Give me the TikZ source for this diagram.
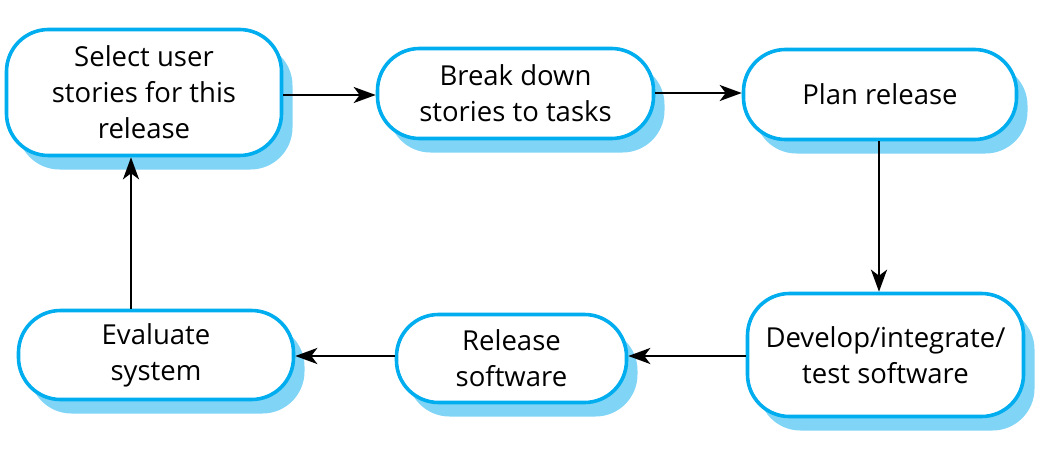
\documentclass[tikz,border=0pt]{standalone}
\usepackage{fontspec}
\setmainfont{Open Sans}
\usetikzlibrary{arrows.meta,shadows}
\definecolor{edgeblue}{RGB}{0,174,239}
\definecolor{shadeblue}{RGB}{128,212,246}
\tikzset{
  stepbox/.style={draw=edgeblue, line width=3.6pt, fill=white, rounded corners=42pt,
    align=center, inner sep=0pt,
    font=\fontsize{27.5pt}{36pt}\selectfont,
    drop shadow={shadow xshift=11pt, shadow yshift=-14pt, fill=shadeblue, opacity=1, draw=none}},
  arr/.style={line width=2.4pt, -{Stealth[length=22pt,width=16pt,inset=6pt]}}
}
\begin{document}
\begin{tikzpicture}[x=1pt,y=-1pt]
\useasboundingbox (0,0) rectangle (1052,463);
\node[stepbox, minimum width=275pt, minimum height=126pt] (b1) at (144,92.5) {Select user\\stories for this\\release};
\node[stepbox, minimum width=276pt, minimum height=90pt] (b2) at (515.5,93.5) {Break down\\stories to tasks};
\node[stepbox, minimum width=273pt, minimum height=90pt] (b3) at (880,94.5) {Plan release};
\node[stepbox, minimum width=276pt, minimum height=123pt] (b4) at (885.5,355) {Develop/integrate/\\test software};
\node[stepbox, minimum width=230pt, minimum height=88pt] (b6) at (511.5,358.5) {Release\\software};
\node[stepbox, minimum width=275pt, minimum height=89pt] (b5) at (156,355) {Evaluate\\system};
\coordinate (r1) at (0,95);
\coordinate (r2) at (0,93);
\coordinate (c3) at (879,0);
\coordinate (r4) at (0,356);
\coordinate (c5) at (131,0);
\draw[arr] (b1.east |- r1) -- (b2.west |- r1);
\draw[arr] (b2.east |- r2) -- (b3.west |- r2);
\draw[arr] (b3.south -| c3) -- (b4.north -| c3);
\draw[arr] (b4.west |- r4) -- (b6.east |- r4);
\draw[arr] (b6.west |- r4) -- (b5.east |- r4);
\draw[arr] (b5.north -| c5) -- (b1.south -| c5);
\end{tikzpicture}
\end{document}
